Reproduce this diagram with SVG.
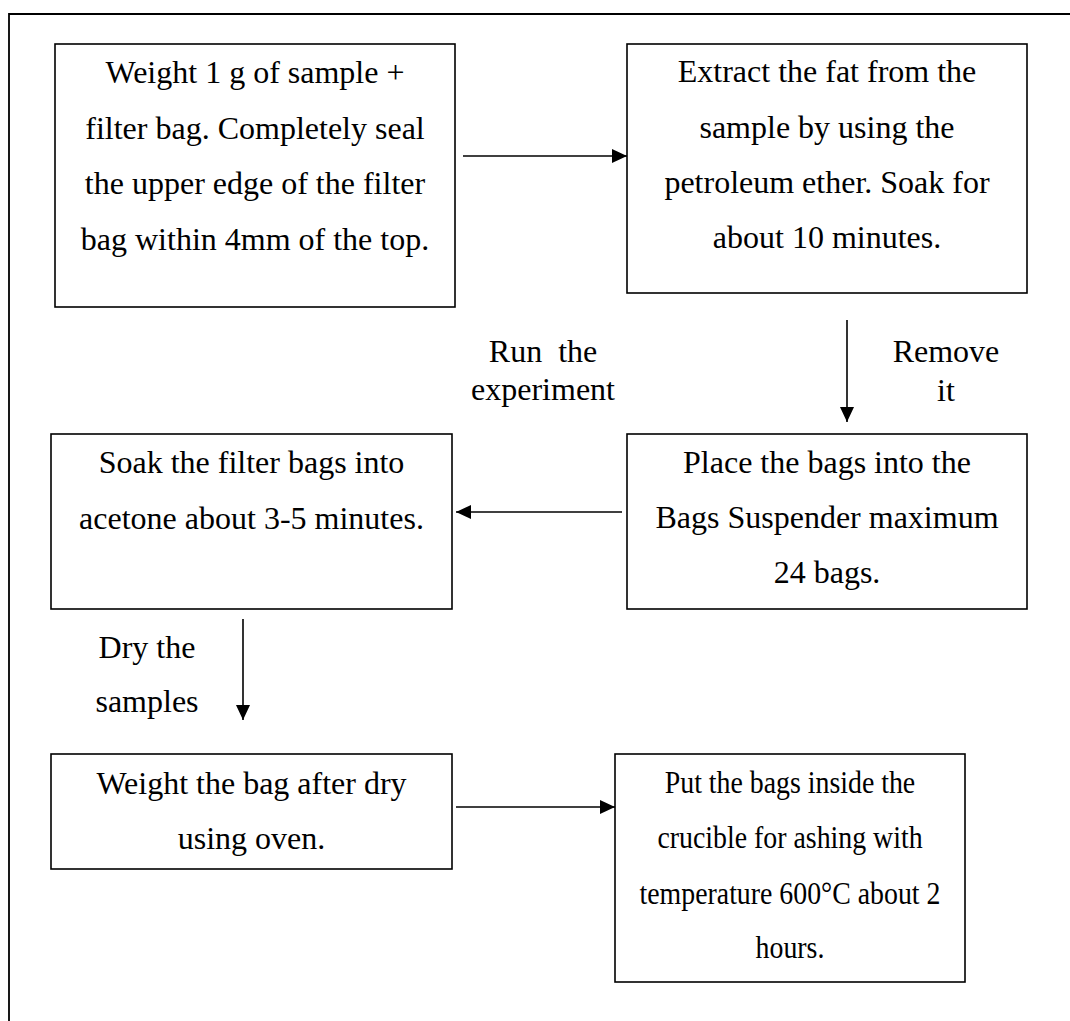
<svg xmlns="http://www.w3.org/2000/svg" width="1070" height="1021" viewBox="0 0 1070 1021">
<defs>
<marker id="ah" markerWidth="15" markerHeight="14" refX="15" refY="7" orient="auto" markerUnits="userSpaceOnUse">
<path d="M0,0 L15,7 L0,14 Z" fill="#000"/>
</marker>
<style>
.box{fill:#fff;stroke:#000;stroke-width:1.6}
.t{font-family:"Liberation Serif","Times New Roman",serif;font-size:32px;fill:#000;text-anchor:middle;white-space:pre}
.c{stroke:#000;stroke-width:1.6;fill:none;marker-end:url(#ah)}
</style>
</defs>
<rect width="1070" height="1021" fill="#fff"/>
<path d="M9,1021 V14 H1070" fill="none" stroke="#000" stroke-width="1.8"/>

<g id="connectors">
<line class="c" x1="463" y1="156" x2="627" y2="156"/>
<line class="c" x1="847" y1="320" x2="847" y2="422"/>
<line class="c" x1="622" y1="512" x2="456" y2="512"/>
<line class="c" x1="243" y1="619" x2="243" y2="720"/>
<line class="c" x1="456" y1="807" x2="615" y2="807"/>
</g>

<g id="node1">
<rect class="box" x="55" y="44" width="400" height="263"/>
<text class="t" x="255" y="83">Weight 1 g of sample +</text>
<text class="t" x="255" y="138.5">filter bag. Completely seal</text>
<text class="t" x="255" y="194">the upper edge of the filter</text>
<text class="t" x="255" y="249.5">bag within 4mm of the top.</text>
</g>

<g id="node2">
<rect class="box" x="627" y="44" width="400" height="249"/>
<text class="t" x="827" y="82">Extract the fat from the</text>
<text class="t" x="827" y="138">sample by using the</text>
<text class="t" x="827" y="193">petroleum ether. Soak for</text>
<text class="t" x="827" y="248">about 10 minutes.</text>
</g>

<g id="node3">
<rect class="box" x="627" y="434" width="400" height="175"/>
<text class="t" x="827" y="473">Place the bags into the</text>
<text class="t" x="827" y="528">Bags Suspender maximum</text>
<text class="t" x="827" y="583">24 bags.</text>
</g>

<g id="node4">
<rect class="box" x="51" y="434" width="401" height="175"/>
<text class="t" x="251.5" y="473">Soak the filter bags into</text>
<text class="t" x="251.5" y="529">acetone about 3-5 minutes.</text>
</g>

<g id="node5">
<rect class="box" x="51" y="754" width="401" height="115"/>
<text class="t" x="251.5" y="794">Weight the bag after dry</text>
<text class="t" x="251.5" y="849">using oven.</text>
</g>

<g id="node6">
<rect class="box" x="615" y="754" width="350" height="228"/>
<g transform="translate(790,0) scale(0.87,1)">
<text class="t" x="0" y="793">Put the bags inside the</text>
<text class="t" x="0" y="848">crucible for ashing with</text>
<text class="t" x="0" y="904">temperature 600°C about 2</text>
<text class="t" x="0" y="958">hours.</text>
</g>
</g>

<g id="labels">
<text class="t" x="543" y="362">Run  the</text>
<text class="t" x="543" y="400">experiment</text>
<text class="t" x="946" y="362">Remove</text>
<text class="t" x="946" y="401">it</text>
<text class="t" x="147" y="658">Dry the</text>
<text class="t" x="147" y="712">samples</text>
</g>
</svg>
